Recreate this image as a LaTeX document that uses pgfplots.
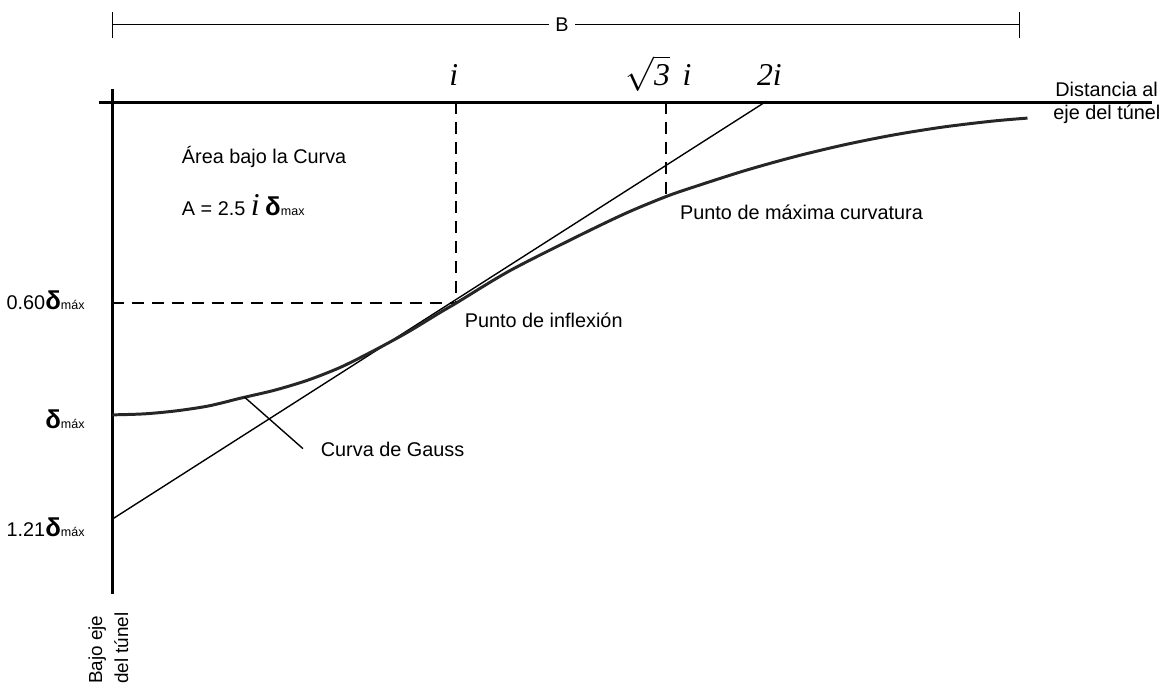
\documentclass[border=0pt]{standalone}
\usepackage{fontspec}
\setmainfont{Liberation Sans}
\newfontfamily\tms{Liberation Serif}
\usepackage{pgfplots}
\pgfplotsset{compat=1.18}

% coordinates are in pixels of the reference, y counted downwards
\newcommand{\dlt}[1]{{\fontsize{13}{13}\selectfont\bfseries δ}{\fontsize{6.3}{6.3}\selectfont #1}}
\newcommand{\ii}{{\tms\itshape\fontsize{16}{16}\selectfont i}}

\begin{document}
\begin{tikzpicture}
\begin{axis}[hide axis, x=0.5pt, y=0.5pt, y dir=reverse,
  xmin=0, xmax=1167, ymin=0, ymax=684, clip=false,
  every node/.append style={font=\fontsize{9.5}{11}\selectfont, inner sep=0pt}]
\path (axis cs:0,0) rectangle (axis cs:1167,684);

% B dimension line
\addplot[black, line width=0.5pt] coordinates {(113,25) (1027,25)};
\addplot[black, line width=0.5pt] coordinates {(113,12) (113,38)};
\addplot[black, line width=0.5pt] coordinates {(1027,12) (1027,38)};
\node[fill=white, inner xsep=3pt, inner ysep=2pt] at (axis cs:566,25) {B};

% axes
\addplot[black, line width=1.3pt] coordinates {(100,103) (1160,103)};
\addplot[black, line width=1.3pt] coordinates {(113,90) (113,598)};

% dashed guides
\addplot[black, line width=1pt, dash pattern=on 6pt off 4pt] coordinates {(459,103) (459,305)};
\addplot[black, line width=1pt, dash pattern=on 6pt off 4pt] coordinates {(113,305) (459,305)};
\addplot[black, line width=1pt, dash pattern=on 6pt off 4pt] coordinates {(671,103) (671,198)};

% tangent at the inflection point
\addplot[black, line width=0.7pt] coordinates {(113,523) (772,102)};

% Gauss curve
\addplot[black!85, line width=1.5pt, smooth] coordinates {
 (113,418) (145,417) (177,414) (210,409) (243,401) (277,393) (310,383)
 (343,370) (377,353) (410,335) (443,315) (460,305) (513,273) (580,239)
 (630,215) (671,198) (700,188) (750,172) (800,158) (850,146) (900,136)
 (950,128) (1000,122) (1035,119)};

% leader line
\addplot[black, line width=0.7pt] coordinates {(246,400) (305,452)};

% texts
\node[anchor=base] at (axis cs:457,86) {\ii};
\node[anchor=base east] at (axis cs:682,86) {\tms\itshape\fontsize{16}{16}\selectfont$\sqrt{\mbox{\tms\itshape 3}}$};
\node[anchor=base] at (axis cs:692,86) {\ii};
\node[anchor=base] at (axis cs:775,86) {\tms\itshape\fontsize{16}{16}\selectfont 2i};

\node[anchor=base west] at (axis cs:1056,97) {Distancia al};
\node[anchor=base west] at (axis cs:1054,120) {eje del túnel};

\node[anchor=west] at (axis cs:176,158) {Área bajo la Curva};
\node[anchor=west] at (axis cs:176,207) {A = 2.5 \ii\ \dlt{max}};

\node[anchor=west] at (axis cs:678,214) {Punto de máxima curvatura};
\node[anchor=west] at (axis cs:461,323) {Punto de inflexión};
\node[anchor=west] at (axis cs:316,453) {Curva de Gauss};

\node[anchor=east] at (axis cs:92,303) {0.60\dlt{máx}};
\node[anchor=east] at (axis cs:92,422) {\dlt{máx}};
\node[anchor=east] at (axis cs:92,531) {1.21\dlt{máx}};

\node[anchor=east, rotate=90, align=left, font=\fontsize{9.5}{13}\selectfont] at (axis cs:109,610) {Bajo eje\\del túnel};
\end{axis}
\end{tikzpicture}
\end{document}
